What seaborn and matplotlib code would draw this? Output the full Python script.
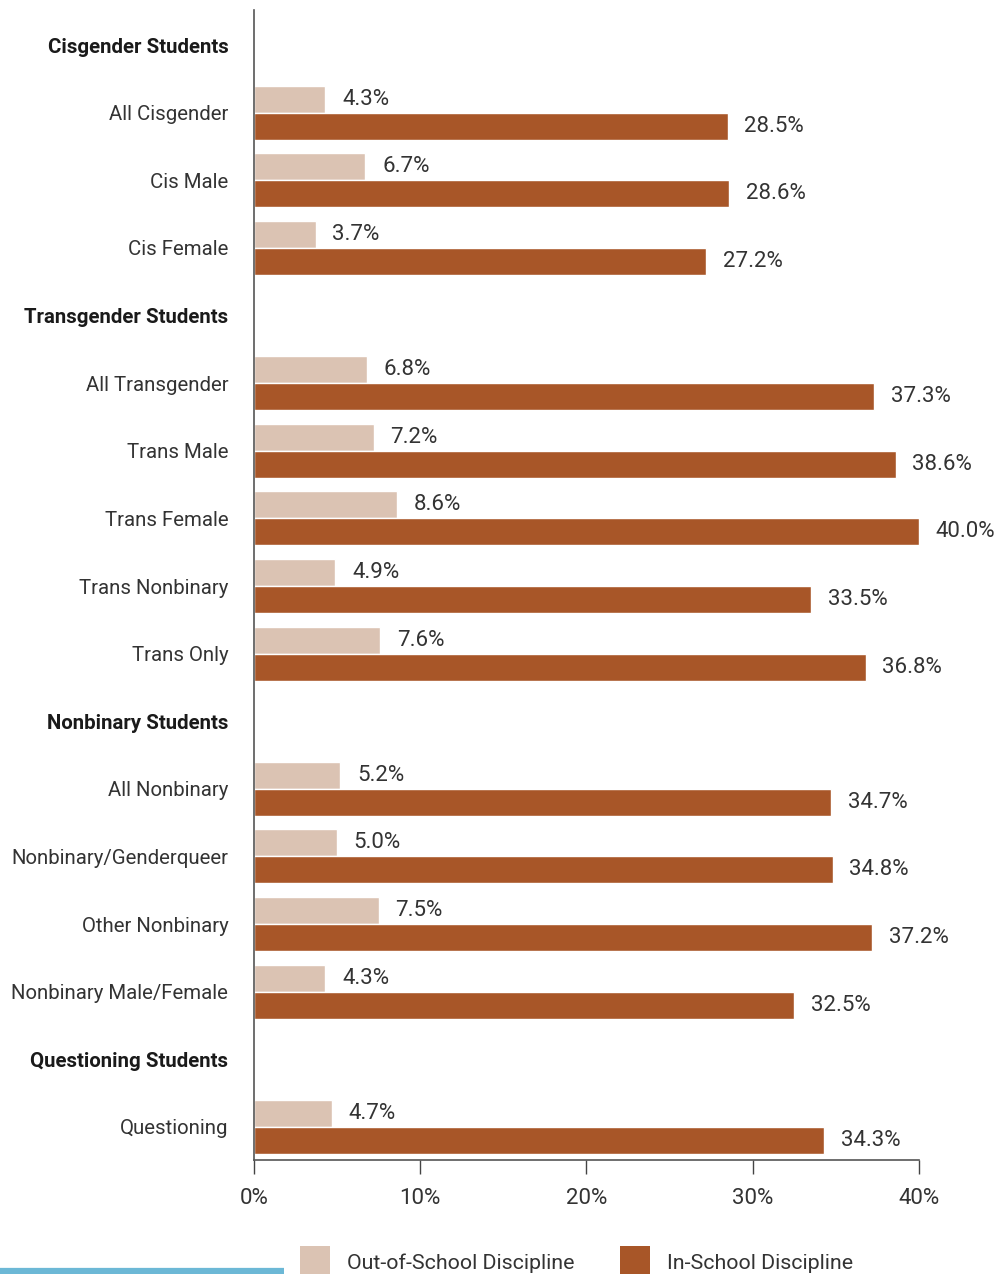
import matplotlib
matplotlib.use("Agg")
import matplotlib.pyplot as plt
import seaborn as sns
import pandas as pd
from matplotlib.lines import Line2D
from matplotlib.patches import Patch

groups = ["Cisgender Students", "Transgender Students", "Nonbinary Students", "Questioning Students"]
group_members = [
    ["All Cisgender", "Cis Male", "Cis Female"],
    ["All Transgender", "Trans Male", "Trans Female", "Trans Nonbinary", "Trans Only"],
    ["All Nonbinary", "Nonbinary/Genderqueer", "Other Nonbinary", "Nonbinary Male/Female"],
    ["Questioning"],
]
categories = [c for g in group_members for c in g]
out_school = [4.3, 6.7, 3.7, 6.8, 7.2, 8.6, 4.9, 7.6, 5.2, 5.0, 7.5, 4.3, 4.7]
in_school = [28.5, 28.6, 27.2, 37.3, 38.6, 40.0, 33.5, 36.8, 34.7, 34.8, 37.2, 32.5, 34.3]
series_names = ["Out-of-School Discipline", "In-School Discipline"]
x_ticks = [0, 10, 20, 30, 40]
x_ticklabels = ["0%", "10%", "20%", "30%", "40%"]

light = "#dbc3b3"
dark = "#a85628"

sns.set_theme(style="white")
FONT = ["Roboto", "DejaVu Sans"]
plt.rcParams["font.family"] = FONT

rows = []
for c, o, i in zip(categories, out_school, in_school):
    rows.append({"cat": c, "series": series_names[0], "val": o})
    rows.append({"cat": c, "series": series_names[1], "val": i})
df = pd.DataFrame(rows)

order = []
for g, members in zip(groups, group_members):
    order.append(g)
    order.extend(members)

fig = plt.figure(figsize=(10.04, 12.74), dpi=100)
ax = fig.add_axes([254 / 1004, 1 - 1160 / 1274, 665 / 1004, 1150 / 1274])

sns.barplot(data=df, y="cat", x="val", hue="series", order=order,
            hue_order=series_names, palette=[light, dark], orient="h",
            width=0.8, ax=ax, legend=False, saturation=1)

ax.set_xlim(0, 40)
ax.set_ylim(len(order) - 0.51, -0.52)
ax.set_xticks(x_ticks)
ax.set_xticklabels(x_ticklabels, fontsize=16, color="#333333")
ax.set_xlabel("")
ax.set_ylabel("")

ax.set_yticks(range(len(order)))
ax.set_yticklabels(order, fontsize=14.7, color="#333333")
for lbl in ax.get_yticklabels():
    if lbl.get_text() in groups:
        lbl.set_fontweight("bold")
        lbl.set_color("#1a1a1a")

ax.tick_params(axis="y", length=0, pad=18.5)
ax.tick_params(axis="x", length=10, width=1, color="#444444", direction="out", pad=10, bottom=True)

for s in ["top", "right"]:
    ax.spines[s].set_visible(False)
ax.spines["left"].set_color("#555555")
ax.spines["bottom"].set_color("#555555")
ax.spines["left"].set_linewidth(1.2)
ax.spines["bottom"].set_linewidth(1.2)

for container in ax.containers:
    ax.bar_label(container, labels=[f"{v:.1f}%" if v == v else "" for v in container.datavalues],
                 padding=12, fontsize=16, color="#333333")

handles = [Patch(facecolor=light, edgecolor="none", label=series_names[0]),
           Patch(facecolor=dark, edgecolor="none", label=series_names[1])]
fig.legend(handles=handles, loc="lower left", bbox_to_anchor=(281 / 1004, -0.018), ncol=2,
           frameon=False, fontsize=15.4, handlelength=1.4, handleheight=1.9,
           columnspacing=2.1, handletextpad=0.8, labelcolor="#333333")

fig.add_artist(Line2D([0, 284 / 1004], [3 / 1274, 3 / 1274], color="#6cb8d6",
                      linewidth=4.5, transform=fig.transFigure, solid_capstyle="butt"))

fig.savefig("out.png", dpi=100)
